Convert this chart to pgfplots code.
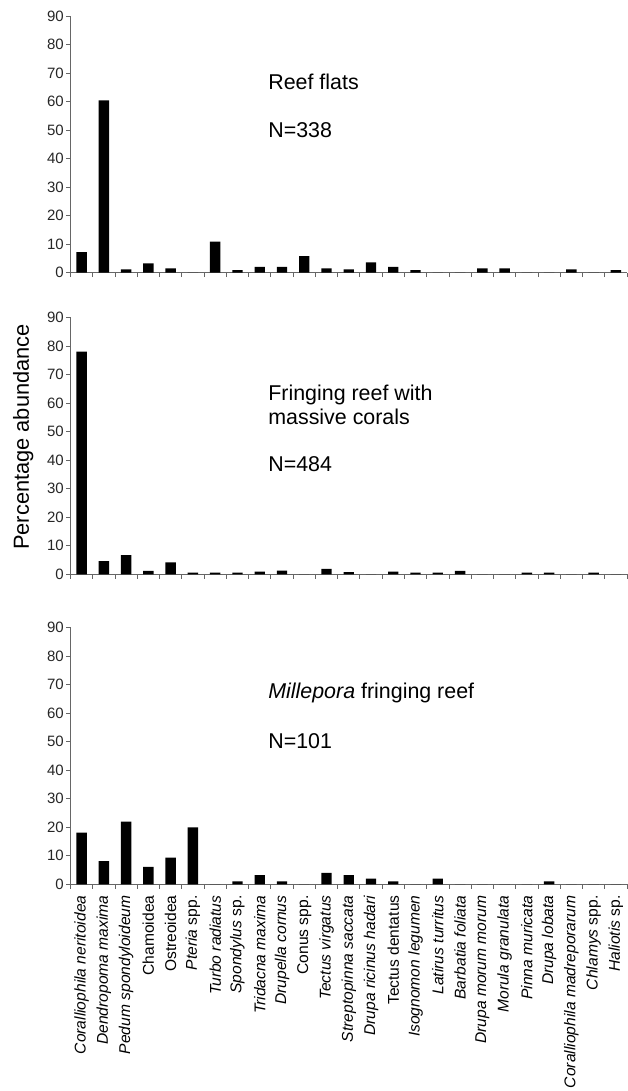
\documentclass[border=0pt]{standalone}
\usepackage{fontspec}
\setmainfont{Liberation Sans}
\usepackage{pgfplots}
\pgfplotsset{compat=1.18}
\tikzset{ann/.style={anchor=base west, font=\fontsize{21.4}{25}\selectfont, inner sep=0pt}}
\pgfplotsset{
  panel/.style={
    scale only axis,
    width=556.5pt, height=256.6pt,
    anchor=south west,
    xmin=0.5, xmax=25.5, ymin=0, ymax=90,
    axis x line*=bottom, axis y line*=left,
    axis line style={draw=gray!80!black, line width=0.8pt},
    every tick/.style={draw=gray!80!black, line width=0.8pt},
    tick align=outside,
    ytick={0,10,...,90},
    major tick length=4.5pt,
    xtick={0.5,1.5,...,25.5},
    xticklabels={},
    /pgf/number format/assume math mode=true,
    yticklabel style={font=\fontsize{15}{18}\selectfont, inner sep=2pt, text=black!85},
    clip=false,
  },
  bars/.style={ybar, bar width=10.4pt, fill=black, draw=none, bar shift=0pt},
}
\begin{document}
\begin{tikzpicture}
\path[use as bounding box] (0,0) rectangle (628pt,-1091pt);
% Top panel
\begin{axis}[panel, at={(70.5pt,-272.7pt)}]
\addplot[bars] coordinates {
(1,7.2) (2,60.4) (3,1.2) (4,3.3) (5,1.5) (6,0) (7,10.9) (8,0.9) (9,2.0) (10,2.0)
(11,5.8) (12,1.5) (13,1.2) (14,3.6) (15,2.0) (16,0.9) (17,0) (18,0) (19,1.5) (20,1.5)
(21,0) (22,0) (23,1.2) (24,0) (25,0.9)};
\node[ann] at (axis cs:9.38,64.2) {Reef flats};
\node[ann] at (axis cs:9.38,47.3) {N=338};
\end{axis}
% Middle panel
\begin{axis}[panel, at={(70.5pt,-574.3pt)},
  ylabel={Percentage abundance},
  ylabel style={font=\fontsize{21.8}{24}\selectfont, at={(axis description cs:-0.085,0.535)}, anchor=center, rotate=0}]
\addplot[bars] coordinates {
(1,78.1) (2,4.6) (3,6.7) (4,1.2) (5,4.2) (6,0.6) (7,0.6) (8,0.6) (9,0.9) (10,1.3)
(11,0) (12,1.9) (13,0.8) (14,0) (15,0.9) (16,0.6) (17,0.6) (18,1.2) (19,0) (20,0)
(21,0.6) (22,0.6) (23,0) (24,0.6) (25,0)};
\node[ann] at (axis cs:9.38,61.1) {Fringing reef with};
\node[ann] at (axis cs:9.38,52.7) {massive corals};
\node[ann] at (axis cs:9.38,36.0) {N=484};
\end{axis}
% Bottom panel
\begin{axis}[panel, at={(70.5pt,-884.3pt)},
  extra x ticks={1,...,25},
  extra x tick labels={{\textit{Coralliophila neritoidea}}, {\textit{Dendropoma maxima}}, {\textit{Pedum spondyloideum}}, {Chamoidea}, {Ostreoidea}, {\textit{Pteria} spp.}, {\textit{Turbo radiatus}}, {\textit{Spondylus} sp.}, {\textit{Tridacna maxima}}, {\textit{Drupella cornus}}, {Conus spp.}, {\textit{Tectus virgatus}}, {\textit{Streptopinna saccata}}, {\textit{Drupa ricinus hadari}}, {Tectus dentatus}, {\textit{Isognomon legumen}}, {\textit{Latirus turritus}}, {\textit{Barbatia foliata}}, {\textit{Drupa morum morum}}, {\textit{Morula granulata}}, {\textit{Pinna muricata}}, {\textit{Drupa lobata}}, {\textit{Coralliophila madreporarum}}, {\textit{Chlamys} spp.}, {\textit{Haliotis} sp.}},
  extra x tick style={major tick length=0pt, tick style={draw=none},
    xticklabel style={rotate=90, anchor=east, font=\fontsize{15.6}{19}\selectfont, inner xsep=11pt, inner ysep=0pt}}]
\addplot[bars] coordinates {
(1,18.1) (2,8.1) (3,22.0) (4,6.1) (5,9.4) (6,20.0) (7,0) (8,1.0) (9,3.2) (10,1.0)
(11,0) (12,4.0) (13,3.2) (14,2.0) (15,1.0) (16,0) (17,2.0) (18,0) (19,0) (20,0)
(21,0) (22,1.0) (23,0) (24,0) (25,0)};
\node[ann] at (axis cs:9.38,65.2) {\textit{Millepora} fringing reef};
\node[ann] at (axis cs:9.38,47.7) {N=101};
\end{axis}
\end{tikzpicture}
\end{document}
